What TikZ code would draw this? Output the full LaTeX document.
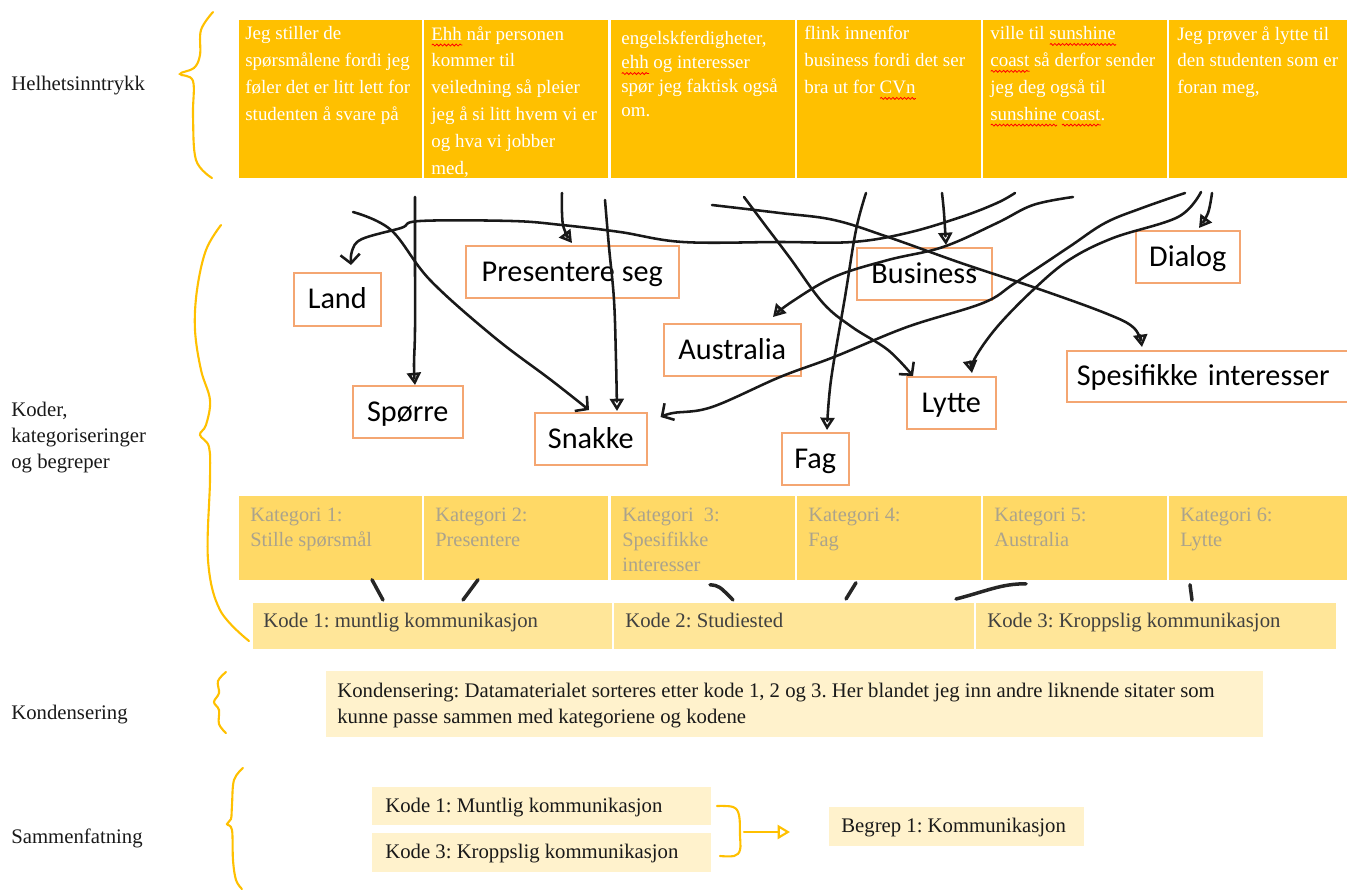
\documentclass[tikz,border=0pt]{standalone}
\usepackage{fontspec}
\setmainfont{Liberation Serif}
\newfontfamily\calibri{Carlito}
\usetikzlibrary{arrows.meta,calc,decorations.pathmorphing}
\frenchspacing
\newsavebox\wavebox
\newcommand\redwave[1]{\sbox\wavebox{#1}\rlap{\smash{\tikz[baseline=0pt,x=1pt,y=1pt]\draw[red, line width=0.45pt, decorate, decoration={snake, amplitude=0.55pt, segment length=2.2pt}] (0,-2.8) -- (\the\wd\wavebox,-2.8);}}\usebox\wavebox}
\definecolor{gold}{HTML}{FFC000}
\definecolor{catfill}{HTML}{FFD966}
\definecolor{codefill}{HTML}{FFE699}
\definecolor{palefill}{HTML}{FFF2CC}
\definecolor{boxor}{HTML}{F4A672}
\definecolor{cattext}{HTML}{ABA38C}
\definecolor{codetext}{HTML}{404040}
\definecolor{bracecol}{HTML}{FFC000}
\tikzset{
  cellbox/.style 2 args={rectangle, anchor=north west, inner sep=0pt, draw=white, line width=1pt,
    minimum width=#1*0.02cm, minimum height=#2*0.02cm},
  toptext/.style={anchor=north west, inner sep=0pt, align=left, text=white,
    font=\fontsize{10.8pt}{15.3pt}\selectfont},
  cattxt/.style={anchor=north west, inner sep=0pt, align=left, text=cattext,
    font=\fontsize{11.6pt}{14.2pt}\selectfont},
  codetxt/.style={anchor=base west, inner sep=0pt, text=codetext,
    font=\fontsize{11.8pt}{15pt}\selectfont},
  plaintxt/.style={anchor=base west, inner sep=0pt, text=black!90,
    font=\fontsize{11.8pt}{15pt}\selectfont},
  labtxt/.style={inner sep=0pt, align=left, text=black!90,
    font=\fontsize{11.8pt}{15pt}\selectfont},
  hbox/.style 2 args={rectangle, draw=boxor, line width=0.9pt, anchor=north west, inner sep=0pt,
    minimum width=#1*0.02cm, minimum height=#2*0.02cm,
    font=\calibri\fontsize{17.2pt}{20pt}\selectfont, text height=13pt, text depth=2pt},
  hand/.style={line width=1.45pt, black!90, line cap=round, line join=round},
  tri/.style={-{Triangle[open, length=7pt, width=8pt]}},
  barb/.style={-{Straight Barb[length=5pt, width=11pt]}},
  brace/.style={line width=1.2pt, bracecol, line cap=round},
  tick/.style={line width=2pt, black!85, line cap=round},
}
\begin{document}
\begin{tikzpicture}[x=0.02cm, y=-0.02cm]
\useasboundingbox (0,0) rectangle (1347,890);

% ---------- left labels ----------
\node[labtxt, anchor=base west] (l1) at (11,90.5) {Helhetsinntrykk};
\node[labtxt, anchor=north west] (l2) at (11,401.5) {Koder,\\kategoriseringer\\og begreper};
\node[labtxt, anchor=base west] (l3) at (11,719.5) {Kondensering};
\node[labtxt, anchor=base west] (l4) at (11,843.5) {Sammenfatning};

% ---------- braces ----------
\draw[brace] plot[smooth, tension=0.6] coordinates {(213,12) (201,30) (200,55) (194,68) (180,74) (193,81) (193,116) (196,160) (212,178)};
\draw[brace] plot[smooth, tension=0.6] coordinates {(221,225) (206,250) (197,290) (195,330) (201,370) (210,400) (206,425) (200,435) (209,447) (210,480) (208,560) (220,610) (249,641)};
\draw[brace] plot[smooth, tension=0.6] coordinates {(226,672) (218,681) (219,693) (214,702) (219,710) (219,724) (226,733)};
\draw[brace] plot[smooth, tension=0.6] coordinates {(243,768) (234,780) (232,805) (231,819) (227,824) (232,830) (233,860) (236,880) (242,889)};

% ---------- top row ----------
\foreach \i/\xx in {1/237,2/422,3/609,4/795,5/981,6/1167}{
  \node[cellbox={186}{160}, fill=gold] (c\i) at (\xx,18) {};
}
\node[toptext] (t1) at (245,26) {Jeg stiller de\\spørsmålene fordi jeg\\føler det er litt lett for\\studenten å svare på};
\node[toptext] (t2) at (431,26) {\redwave{Ehh} når personen\\kommer til\\veiledning så pleier\\jeg å si litt hvem vi er\\og hva vi jobber\\med,};
\node[toptext, font=\fontsize{10.8pt}{13.6pt}\selectfont] (t3) at (621,31) {engelskferdigheter,\\\redwave{ehh} og interesser\\spør jeg faktisk også\\om.};
\node[toptext] (t4) at (804,26) {flink innenfor\\business fordi det ser\\bra ut for \redwave{CVn}};
\node[toptext] (t5) at (990,26) {ville til \redwave{sunshine}\\\redwave{coast} så derfor sender\\jeg deg også til\\\redwave{sunshine} \redwave{coast}.};
\node[toptext] (t6) at (1177,26) {Jeg prøver å lytte til\\den studenten som er\\foran meg,};

% ---------- hand boxes ----------
\node[hbox={87}{53}] (land) at (293,272) {Land};
\node[hbox={213}{52}] (presentere) at (465,245) {Presentere seg};
\node[hbox={110}{52}] (sporre) at (352,385) {Spørre};
\node[hbox={112}{52}] (snakke) at (534,412) {Snakke};
\node[hbox={137}{52}] (australia) at (663,323) {Australia};
\node[hbox={135}{52}] (business) at (856,247) {Business};
\node[hbox={104}{52}] (dialog) at (1135,230) {Dialog};
\node[hbox={89}{52}] (lytte) at (906,376) {Lytte};
\node[hbox={67}{52}] (fag) at (781,432) {Fag};
\node[hbox={290}{51}, text width=270*0.02cm, align=left] (spesifikke) at (1066,350) {Spesifikke interesser};

% ---------- hand-drawn connectors ----------
\coordinate (sA) at (1015,193); \coordinate (eA) at ($(land.north west)+(58,-7)$);
\coordinate (sB) at (415,197);  \coordinate (eB) at ($(sporre.north west)+(63,0)$);
\coordinate (sC) at (353,212);  \coordinate (eC) at ($(snakke.north west)+(55,-2)$);
\coordinate (sD) at (562,193);  \coordinate (eD) at ($(presentere.north west)+(107,-2)$);
\coordinate (sE) at (605,200);  \coordinate (eE) at ($(snakke.north west)+(83,-1)$);
\coordinate (sF) at (712,205);  \coordinate (eF) at ($(spesifikke.north west)+(76,-3)$);
\coordinate (sG) at (744,197);  \coordinate (eG) at ($(lytte.north west)+(7,0)$);
\coordinate (sH) at (1073,197); \coordinate (eH) at ($(australia.north west)+(110,-6)$);
\coordinate (sI) at (1185,193); \coordinate (eI) at ($(snakke.north east)+(13,5)$);
\coordinate (sJ) at (1201,192); \coordinate (eJ) at ($(lytte.north west)+(66,-3)$);
\coordinate (sK) at (1212,193); \coordinate (eK) at ($(dialog.north west)+(64,-2)$);
\coordinate (sL) at (866,193);  \coordinate (eL) at ($(fag.north west)+(46,-2)$);
\coordinate (sM) at (942,193);  \coordinate (eM) at ($(business.north west)+(90,-2)$);

\draw[hand, barb] plot[smooth, tension=0.6] coordinates {(sA) (997,203) (961,217) (907,233) (852,242) (780,242) (683,242) (620,232) (562,225) (512,221) (420,221) (401,228) (362,239) (352,251) (eA)};
\draw[hand, tri] plot[smooth, tension=0.6] coordinates {(sB) (415,260) (415,330) (414,365) (eB)};
\draw[hand, barb] plot[smooth, tension=0.6] coordinates {(sC) (391,230) (430,280) (494,337) (551,380) (eC)};
\draw[hand, tri] plot[smooth, tension=0.6] coordinates {(sD) (563,225) (eD)};
\draw[hand, tri] plot[smooth, tension=0.6] coordinates {(sE) (609,247) (614,300) (616,360) (eE)};
\draw[hand, tri] plot[smooth, tension=0.6] coordinates {(sF) (780,213) (834,220) (888,237) (961,263) (1033,287) (1105,313) (1134,328) (eF)};
\draw[hand, barb] plot[smooth, tension=0.6] coordinates {(sG) (765,225) (790,258) (823,303) (852,327) (888,350) (eG)};
\draw[hand, tri] plot[smooth, tension=0.6] coordinates {(sH) (1033,205) (997,223) (943,247) (888,260) (834,277) (790,303) (eH)};
\draw[hand, barb] plot[smooth, tension=0.6] coordinates {(sI) (1142,208) (1105,223) (1069,247) (1015,283) (983,303) (907,327) (834,357) (780,377) (712,407) (673,413) (eI)};
\draw[hand, tri] plot[smooth, tension=0.6] coordinates {(sJ) (1178,217) (1113,238) (1069,260) (1033,290) (997,327) (975,358) (eJ)};
\draw[hand, tri] plot[smooth, tension=0.6] coordinates {(sK) (1208,213) (eK)};
\draw[hand, tri] plot[smooth, tension=0.6] coordinates {(sL) (856,230) (845,297) (831,380) (eL)};
\draw[hand, tri] plot[smooth, tension=0.6] coordinates {(sM) (944,213) (eM)};

% ---------- categories ----------
\foreach \i/\xx in {1/237,2/422,3/609,4/795,5/981,6/1167}{
  \node[cellbox={186}{86}, fill=catfill] (k\i) at (\xx,494) {};
}
\node[cattxt] (kt1) at (250,508) {Kategori 1:\\Stille spørsmål};
\node[cattxt] (kt2) at (435,508) {Kategori 2:\\Presentere};
\node[cattxt] (kt3) at (622,508) {Kategori~~3:\\Spesifikke\\interesser};
\node[cattxt] (kt4) at (808,508) {Kategori 4:\\Fag};
\node[cattxt] (kt5) at (994,508) {Kategori 5:\\Australia};
\node[cattxt] (kt6) at (1180,508) {Kategori 6:\\Lytte};

% ---------- codes ----------
\node[cellbox={361}{48}, fill=codefill] (d1) at (251,601) {};
\node[cellbox={362}{48}, fill=codefill] (d2) at (612,601) {};
\node[cellbox={362}{48}, fill=codefill] (d3) at (974,601) {};
\node[codetxt] (dt1) at (263,627) {Kode 1: muntlig kommunikasjon};
\node[codetxt] (dt2) at (625,627) {Kode 2: Studiested};
\node[codetxt] (dt3) at (987,627) {Kode 3: Kroppslig kommunikasjon};

% category-code ticks
\draw[tick] ($(k1.south west)+(135,-2)$) -- ($(d1.north west)+(132,-1)$);
\draw[tick] ($(k2.south west)+(56,-2)$) -- ($(d1.north west)+(212,-1)$);
\draw[tick] ($(k3.south west)+(101,3)$) .. controls ($(k3.south west)+(110,4)$) .. ($(d2.north west)+(121,-1)$);
\draw[tick] ($(k4.south west)+(61,1)$) -- ($(d2.north west)+(234,-2)$);
\draw[tick] ($(k5.south west)+(45,2)$) .. controls ($(k5.south west)+(20,2)$) and ($(d2.north west)+(375,-10)$) .. ($(d2.north west)+(344,-2)$);
\draw[tick] ($(k6.south west)+(23,3)$) -- ($(d3.north west)+(218,-1)$);

% ---------- kondensering ----------
\node[cellbox={937}{66}, fill=palefill, draw=none] (kon) at (325,670) {};
\node[labtxt, anchor=north west, font=\fontsize{11.8pt}{14.6pt}\selectfont] (kont) at (337,683) {Kondensering: Datamaterialet sorteres etter kode 1, 2 og 3. Her blandet jeg inn andre liknende sitater som\\kunne passe sammen med kategoriene og kodene};

% ---------- sammenfatning ----------
\node[cellbox={339}{38}, fill=palefill, draw=none] (b1) at (371,786) {};
\node[cellbox={339}{39}, fill=palefill, draw=none] (b3) at (371,832) {};
\node[cellbox={255}{39}, fill=palefill, draw=none] (begrep) at (828,806) {};
\node[plaintxt] (bt1) at (385,812.5) {Kode 1: Muntlig kommunikasjon};
\node[plaintxt] (bt3) at (385,858.5) {Kode 3: Kroppslig kommunikasjon};
\node[plaintxt] (bgt) at (841,832.5) {Begrep 1: Kommunikasjon};

\draw[brace] plot[smooth, tension=0.6] coordinates {(717,806) (733,807) (739,815) (740,835) (740,850) (734,856) (720,856)};
\coordinate (ar1) at (744,832);
\coordinate (ar2) at (790,832);
\draw[brace, -{Triangle[open, length=7pt, width=8pt]}] (ar1) -- (ar2);
\end{tikzpicture}
\end{document}
